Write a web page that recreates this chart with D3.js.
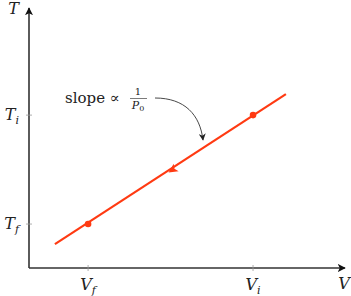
<html>
<head>
<meta charset="utf-8">
<style>
body { margin: 0; background: #fff; }
</style>
</head>
<body>
<div id="chart"></div>
<script src="https://d3js.org/d3.v7.min.js"></script>
<script>
    // values (axis units 0..10)
    var tickV = [1.87, 7.09];
    var tickVLabels = ["f", "i"];
    var tickT = [1.69, 5.88];
    var tickTLabels = ["f", "i"];
    var lineV = [0.82, 8.13];
    var lineT = [0.92, 6.69];
    var pointV = [1.87, 7.09];
    var pointT = [1.69, 5.88];
    var midArrow = [4.55, 3.78];

    var width = 351, height = 296;
    var red = "#ff3a12";
    var serif = "'DejaVu Serif', 'Liberation Serif', serif";

    var svg = d3.select("#chart").append("svg")
        .attr("width", width).attr("height", height)
        .attr("font-family", serif);

    var x = d3.scaleLinear().domain([0, 10]).range([29, 345]);
    var y = d3.scaleLinear().domain([0, 10]).range([268, 8]);

    var defs = svg.append("defs");
    defs.append("marker").attr("id", "axarrow")
        .attr("viewBox", "0 0 10 10").attr("refX", 9).attr("refY", 5)
        .attr("markerWidth", 5).attr("markerHeight", 5).attr("orient", "auto")
        .append("path").attr("d", "M0,0 L10,5 L0,10 L2.5,5 Z").attr("fill", "#111");
    defs.append("marker").attr("id", "curvearrow")
        .attr("viewBox", "0 0 10 10").attr("refX", 9).attr("refY", 5)
        .attr("markerWidth", 7).attr("markerHeight", 7).attr("orient", "auto")
        .attr("markerUnits", "userSpaceOnUse")
        .append("path").attr("d", "M0,0 L10,5 L0,10 L3,5 Z").attr("fill", "#222");

    // axes
    svg.append("line")
        .attr("x1", x(0)).attr("y1", y(0)).attr("x2", x(0)).attr("y2", y(10))
        .attr("stroke", "#333").attr("stroke-width", 1.6).attr("marker-end", "url(#axarrow)");
    svg.append("line")
        .attr("x1", x(0)).attr("y1", y(0)).attr("x2", x(10)).attr("y2", y(0))
        .attr("stroke", "#333").attr("stroke-width", 1.6).attr("marker-end", "url(#axarrow)");

    // ticks
    svg.selectAll(".vtick").data(tickV).enter().append("line")
        .attr("x1", d => x(d)).attr("x2", d => x(d))
        .attr("y1", y(0) - 3).attr("y2", y(0) + 3)
        .attr("stroke", "#999").attr("stroke-width", 0.8);
    svg.selectAll(".ttick").data(tickT).enter().append("line")
        .attr("y1", d => y(d)).attr("y2", d => y(d))
        .attr("x1", x(0) - 3).attr("x2", x(0) + 3)
        .attr("stroke", "#999").attr("stroke-width", 0.8);

    // tick labels
    var vl = svg.selectAll(".vlab").data(tickV).enter().append("text")
        .attr("x", d => x(d)).attr("y", y(0) + 22)
        .attr("text-anchor", "middle").attr("font-size", 16).attr("fill", "#222");
    vl.append("tspan").attr("font-style", "italic").text("V");
    vl.append("tspan").attr("font-style", "italic").attr("font-size", 11)
        .attr("dy", 4).text((d, i) => tickVLabels[i]);

    var tl = svg.selectAll(".tlab").data(tickT).enter().append("text")
        .attr("x", x(0) - 10).attr("y", d => y(d) + 5)
        .attr("text-anchor", "end").attr("font-size", 16).attr("fill", "#222");
    tl.append("tspan").attr("font-style", "italic").text("T");
    tl.append("tspan").attr("font-style", "italic").attr("font-size", 11)
        .attr("dy", 4).text((d, i) => tickTLabels[i]);

    // axis names
    svg.append("text").attr("x", x(0) - 10).attr("y", 14).attr("fill", "#222")
        .attr("text-anchor", "end").attr("font-size", 16).attr("font-style", "italic").text("T");
    svg.append("text").attr("x", 344).attr("y", 289).attr("fill", "#222")
        .attr("text-anchor", "middle").attr("font-size", 16).attr("font-style", "italic").text("V");

    // the line
    svg.append("line")
        .attr("x1", x(lineV[0])).attr("y1", y(lineT[0]))
        .attr("x2", x(lineV[1])).attr("y2", y(lineT[1]))
        .attr("stroke", red).attr("stroke-width", 2.2);

    // points
    svg.selectAll(".pt").data(pointV).enter().append("circle")
        .attr("cx", d => x(d)).attr("cy", (d, i) => y(pointT[i]))
        .attr("r", 3.3).attr("fill", red);

    // direction arrow head on the line, pointing down-left
    var ang = Math.atan2(y(lineT[0]) - y(lineT[1]), x(lineV[0]) - x(lineV[1])) * 180 / Math.PI;
    svg.append("path")
        .attr("d", "M5,0 L-4,-4.5 L-2,0 L-4,4.5 Z")
        .attr("fill", red)
        .attr("transform", "translate(" + x(midArrow[0]) + "," + y(midArrow[1]) + ") rotate(" + ang + ")");

    // annotation
    var ann = svg.append("g").attr("font-size", 15).attr("fill", "#222");
    ann.append("text").attr("x", 65).attr("y", 103).text("slope \u221D");
    ann.append("text").attr("x", 138).attr("y", 95).attr("text-anchor", "middle")
        .attr("font-size", 10).text("1");
    ann.append("line").attr("x1", 130).attr("x2", 147).attr("y1", 98.5).attr("y2", 98.5)
        .attr("stroke", "#222").attr("stroke-width", 0.6);
    var den = ann.append("text").attr("x", 138).attr("y", 109).attr("text-anchor", "middle")
        .attr("font-size", 11);
    den.append("tspan").attr("font-style", "italic").text("P");
    den.append("tspan").attr("font-size", 8).attr("dy", 2).text("0");

    svg.append("path")
        .attr("d", "M155,98 C185,98 200,115 203,140")
        .attr("fill", "none").attr("stroke", "#333").attr("stroke-width", 0.9)
        .attr("marker-end", "url(#curvearrow)");
</script>
</body>
</html>
